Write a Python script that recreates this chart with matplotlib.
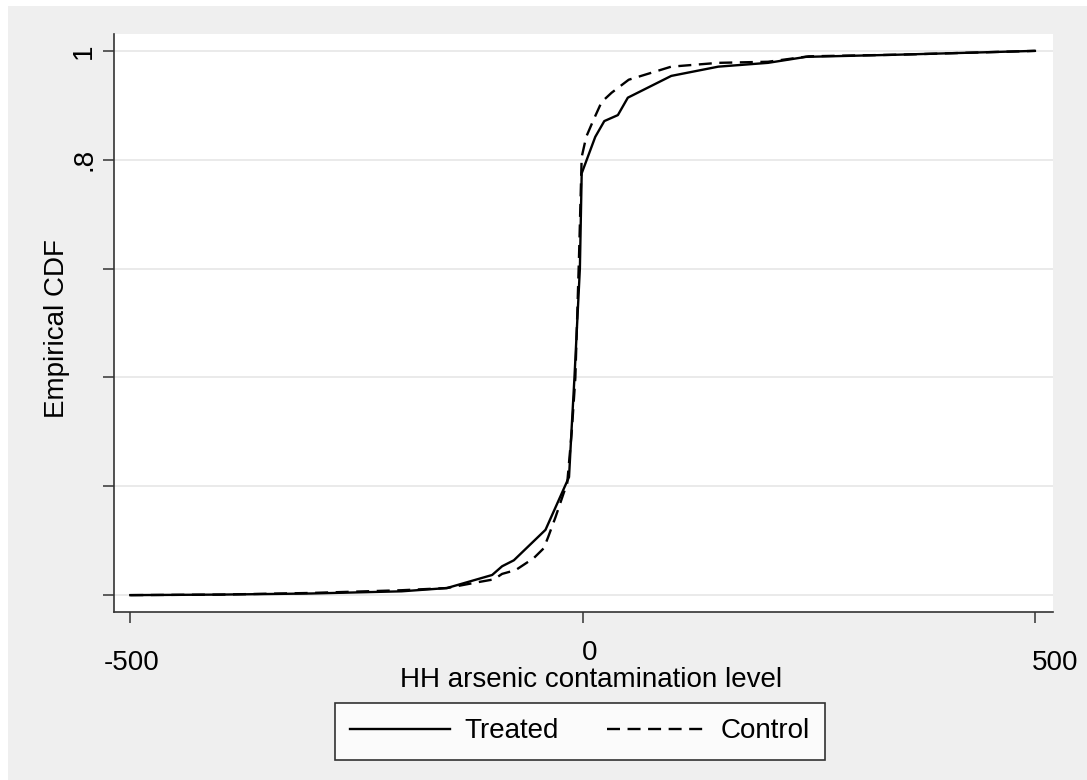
import matplotlib
matplotlib.use("Agg")
import matplotlib.pyplot as plt
from matplotlib.patches import Rectangle
from matplotlib.transforms import ScaledTranslation

# --- DATA ---
treated_x = [-500, -400, -300, -200, -150, -100, -89, -76, -41, -15, -12, -9, -3, -1,
             14, 24, 39, 50, 98, 150, 205, 247, 349, 500]
treated_y = [0.0, 0.001, 0.003, 0.007, 0.013, 0.037, 0.053, 0.064, 0.12, 0.217, 0.31, 0.40, 0.60, 0.775,
             0.842, 0.871, 0.882, 0.914, 0.954, 0.971, 0.978, 0.989, 0.993, 1.0]

control_x = [-500, -400, -300, -200, -150, -115, -98, -89, -74, -54, -43, -38, -30, -21, -17,
             -12, -8, -4, -1, 4, 12, 21, 32, 51, 98, 150, 205, 250, 350, 500]
control_y = [0.0, 0.001, 0.004, 0.009, 0.013, 0.024, 0.029, 0.039, 0.046, 0.068, 0.086, 0.107, 0.143, 0.187, 0.206,
             0.30, 0.40, 0.62, 0.805, 0.842, 0.873, 0.906, 0.923, 0.947, 0.971, 0.978, 0.980, 0.990, 0.993, 1.0]

x_ticks = [-500, 0, 500]
x_tick_labels = ["-500", "0", "500"]
y_ticks = [0, 0.2, 0.4, 0.6, 0.8, 1.0]
y_tick_labels = ["", "", "", "", ".8", "1"]

BG = "#efefef"
FS = 20
W, H = 1087, 780
plt.rcParams["font.family"] = ["Liberation Sans", "DejaVu Sans"]
plt.rcParams["axes.unicode_minus"] = False

fig = plt.figure(figsize=(W / 100, H / 100), dpi=100, facecolor="white")
# gray graph region with a thin white edge at top/left, like the Stata export
fig.patches.append(Rectangle((8 / W, -0.01), 1, 1.01 - 6 / H, transform=fig.transFigure,
                             facecolor=BG, edgecolor="none", zorder=-10))

ax = fig.add_axes([114 / W, 1 - 612 / H, (1053 - 114) / W, (612 - 34) / H])
ax.set_facecolor("white")

dash = (0, (5.5, 3.2))
ax.plot(treated_x, treated_y, color="black", lw=1.7, label="Treated")
ax.plot(control_x, control_y, color="black", lw=1.7, linestyle=dash, label="Control")

ax.set_xlim(-518, 520)
ax.set_ylim(-0.031, 1.031)
ax.set_xticks(x_ticks)
ax.set_xticklabels(x_tick_labels)
ax.set_yticks(y_ticks)
ax.set_yticklabels(y_tick_labels, rotation=90, va="center")
ax.tick_params(axis="both", direction="out", length=8, width=1.1, labelsize=FS, colors="#333333",
               labelcolor="black")
ax.tick_params(axis="x", pad=12)
ax.tick_params(axis="y", pad=4)
ax.grid(axis="y", color="#e6e6e6", lw=1.2)
ax.set_axisbelow(True)

# Stata staggers the x labels a little; nudge them to match
offsets = [(1, 10), (7, 0), (20, 10)]
for lab, (dx, dy) in zip(ax.get_xticklabels(), offsets):
    lab.set_transform(lab.get_transform() + ScaledTranslation(dx / 100, -dy / 100, fig.dpi_scale_trans))

for side in ["top", "right"]:
    ax.spines[side].set_visible(False)
for side in ["left", "bottom"]:
    ax.spines[side].set_color("#333333")
    ax.spines[side].set_linewidth(1.2)

ax.set_xlabel("HH arsenic contamination level", fontsize=FS)
ax.xaxis.set_label_coords((591 - 114) / (1053 - 114), -(667 - 612) / (612 - 34))
ax.set_ylabel("Empirical CDF", fontsize=FS)
ax.yaxis.set_label_coords(-(114 - 70) / (1053 - 114), (612 - 329) / (612 - 34))

leg = fig.legend(loc="upper center", bbox_to_anchor=(580 / W, 1 - 703 / H), ncol=2,
                 fontsize=FS, frameon=True, fancybox=False, handlelength=3.6, handletextpad=0.5,
                 columnspacing=1.75, borderpad=0.55, borderaxespad=0)
leg.get_frame().set_edgecolor("black")
leg.get_frame().set_linewidth(1.2)
leg.get_frame().set_facecolor("white")

fig.savefig("out.png", dpi=100, facecolor="white")
